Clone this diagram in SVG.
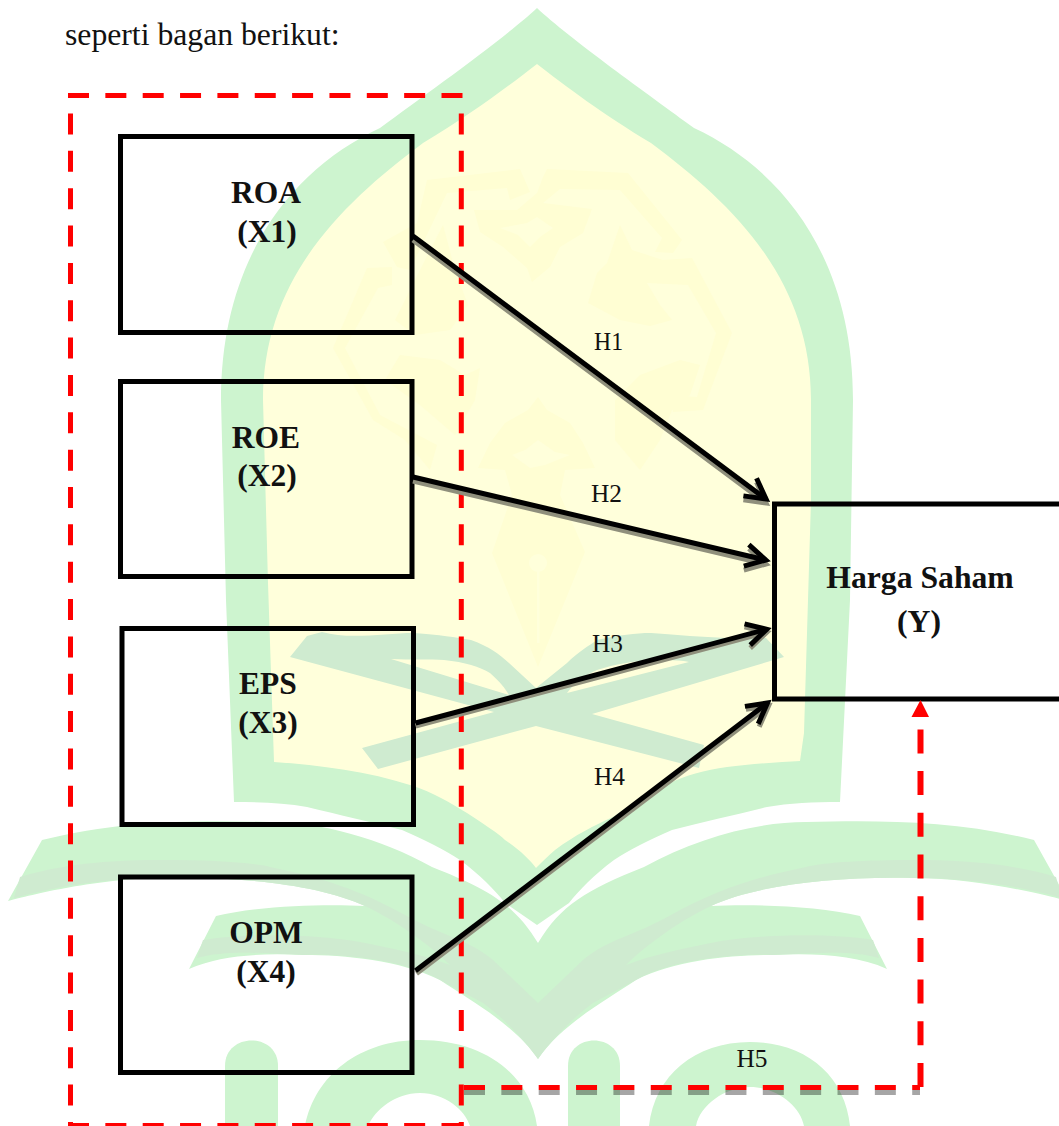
<svg xmlns="http://www.w3.org/2000/svg" xmlns:xlink="http://www.w3.org/1999/xlink" width="1059" height="1126" viewBox="0 0 1059 1126">
<style>
.g{fill:#cdf4cf}
.d{fill:#cfebd0}
.y{fill:#ffffdb}
.o{fill:#fffed3}
.box{fill:none;stroke:#000;stroke-width:5}
.t{font-family:"Liberation Serif","Times New Roman",serif;fill:#111}
.b{font-weight:bold;font-size:31.5px;text-anchor:middle}
.h{font-size:26px}
.line{fill:none;stroke:#000;stroke-width:5;marker-end:url(#arr)}
.sh{fill:none;stroke:#8f8f7c;stroke-width:5;marker-end:url(#arrS)}
.dash{fill:none;stroke:#f00;stroke-width:5;stroke-dasharray:21 16.35}
</style>
<defs>
<marker id="arr" markerUnits="userSpaceOnUse" orient="auto" markerWidth="40" markerHeight="40" refX="0" refY="0" overflow="visible"><path d="M-20,-11 L0,0 L-20,11" fill="none" stroke="#000" stroke-width="5"/></marker>
<marker id="arrS" markerUnits="userSpaceOnUse" orient="auto" markerWidth="40" markerHeight="40" refX="0" refY="0" overflow="visible"><path d="M-20,-11 L0,0 L-20,11" fill="none" stroke="#8f8f7c" stroke-width="5"/></marker>
<g id="wing">
<path class="g" d="M538,943 C515,905 490,890 432,867 C380,838 320,822 270,822 C200,820 120,820 42,840 L8,901 C30,895 100,878 162,878 C240,876 320,885 365,906 C330,904 260,905 216,916 L189,969 C220,955 260,953 304,955 C345,955 400,960 440,980 C470,1000 515,1025 538,1059 Z"/>
<path class="d" d="M20,877 C70,862 120,860 162,860 C210,860 250,862 270,867 C320,877 360,890 405,915 C440,935 470,940 493,960 L538,1003 L538,1059 C525,1040 500,1015 483,1003 L440,980 C410,962 350,953 304,955 C260,953 225,950 197,958 L203,940 C250,932 320,935 360,942 C390,948 425,955 450,965 C430,945 395,920 365,906 C320,885 240,876 162,878 C110,878 60,885 14,898 Z"/>
</g>
</defs>
<rect width="1059" height="1126" fill="#fff"/>
<g id="watermark">
<path class="g" d="M537,8 C505,38 425,95 380,128 C290,170 221,260 221,400 L226,600 L234,802 C260,802 285,803 307,807 C340,815 370,822 402,830 C425,840 445,850 460,860 C480,875 495,890 505,903 L537,925 L569,903 C579,890 594,875 614,860 C629,850 649,840 672,830 C704,822 734,815 767,807 C789,803 814,802 840,802 L850,600 L853,400 C853,260 784,170 694,128 C649,95 569,38 537,8 Z"/>
<path class="y" d="M537,64 C510,85 470,115 423,143 C340,205 263,280 263,400 L268,583 L274,762 C320,765 370,772 410,785 C435,793 450,803 467,813 C485,825 498,833 505,840 C520,850 530,860 536,868 C542,862 548,856 555,850 C575,835 595,825 613,817 C630,805 650,795 666,785 C685,775 705,770 727,767 C750,764 780,762 800,761 L804,733 L811,500 L811,400 C811,280 734,205 651,143 C604,115 564,85 537,64 Z"/>
<path class="o" d="M547,169 L628,173 L682,240 L673,253 L655,252 L662,238 L620,190 L560,189 L543,203 L592,209 L583,233 L560,247 L550,267 L532,282 L527,268 L503,247 L480,232 L474,210 L517,210 L537,193 L543,177 Z"/>
<path class="y" d="M537,217 L553,228 L540,237 L530,247 L518,235 L500,228 L527,223 Z"/>
<path class="o" d="M620,225 L632,250 L663,260 L692,258 L732,333 L703,410 L673,412 L670,395 L697,397 L716,333 L688,285 L647,283 L660,305 L672,320 L650,326 L620,320 L588,303 L597,273 L607,263 Z"/>
<path class="o" d="M427,180 L520,169 L530,192 L510,200 L507,188 L447,193 L410,270 L397,267 L383,242 L417,223 Z"/>
<path class="o" d="M367,268 L392,267 L392,285 L378,288 L345,348 L380,415 L437,445 L430,470 L405,440 L373,420 L333,348 Z"/>
<path class="o" d="M443,225 L455,270 L468,305 L450,330 L415,335 L395,320 L410,290 L425,260 Z"/>
<path class="o" d="M400,355 L440,360 L465,375 L480,368 L475,400 L455,435 L420,405 L385,380 Z"/>
<path class="o" d="M680,360 L700,365 L690,395 L672,410 L660,440 L640,470 L615,440 L615,400 L640,375 Z"/>
<path class="o" d="M538,397 L547,410 L570,423 L583,443 L595,468 L565,470 L560,495 L585,552 L538,667 L492,553 L512,495 L505,470 L478,468 L490,443 L505,423 L528,410 Z"/>
<path class="y" d="M538,440 L555,452 L570,455 L545,465 L530,468 L512,455 L525,450 Z"/>
<circle class="y" cx="538" cy="563" r="9"/>
<rect class="y" x="537" y="565" width="2.5" height="78"/>
<path class="d" d="M290,657 L307,636 L322,632 C350,640 385,633 414,633 C440,635 455,637 471,640 C490,647 498,653 509,663 L536,688 L567,663 C578,652 590,645 597,640 C620,635 635,633 651,633 C680,635 700,637 727,638 L766,638 L784,657 L592,714 L704,745 L699,768 L536,726 L378,769 L362,748 L494,712 Z"/>
<path class="y" d="M391,659 C410,660 430,659 444,660 C465,662 480,667 490,673 C500,682 505,688 509,695 Z"/>
<path class="y" d="M567,693 C575,682 585,675 597,670 C615,664 635,661 651,660 C665,660 680,660 689,662 Z"/>
<use xlink:href="#wing"/>
<use xlink:href="#wing" transform="matrix(-1 0 0 1 1076 0)"/>
<path class="g" d="M225,1126 V1066 C225,1032 278,1032 278,1066 V1126 Z"/>
<path class="g" d="M305,1126 C315,1075 360,1040 420,1040 C485,1040 530,1075 537,1126 H470 C465,1110 445,1093 420,1093 C395,1093 375,1110 368,1126 Z"/>
<path class="g" d="M568,1126 V1066 C568,1032 620,1032 620,1066 V1126 Z"/>
<path class="g" d="M649,1126 C655,1075 695,1042 750,1042 C805,1042 845,1075 850,1126 H804 C800,1105 775,1087 750,1087 C725,1087 700,1105 696,1126 Z"/>
</g>
<text class="t" x="65" y="45" font-size="31.7">seperti bagan berikut:</text>
<g id="boundary-x">
<path class="dash" d="M68,95.5 H463"/>
<path class="dash" d="M70.5,113.5 V1126"/>
<path class="dash" d="M461.3,113.5 V1126"/>
<path class="dash" d="M68,1125.5 H464"/>
</g>
<g id="node-x1"><rect class="box" x="120.5" y="136.5" width="291.5" height="196"/><text class="t b" x="266" y="203">ROA</text><text class="t b" x="267" y="242">(X1)</text></g>
<g id="node-x2"><rect class="box" x="120.5" y="381.5" width="291.5" height="195"/><text class="t b" x="266" y="447.5">ROE</text><text class="t b" x="267" y="486">(X2)</text></g>
<g id="node-x3"><rect class="box" x="122" y="628.5" width="291.5" height="196"/><text class="t b" x="268" y="694">EPS</text><text class="t b" x="268" y="733">(X3)</text></g>
<g id="node-x4"><rect class="box" x="120.5" y="877" width="291.5" height="195.5"/><text class="t b" x="266" y="943">OPM</text><text class="t b" x="266" y="982">(X4)</text></g>
<g id="node-y"><rect class="box" x="774.5" y="504" width="290" height="195"/><text class="t" x="920" y="588" font-size="31.7" font-weight="bold" text-anchor="middle">Harga Saham</text><text class="t" x="919" y="632" font-size="31.7" font-weight="bold" text-anchor="middle">(Y)</text></g>
<g id="connectors">
<path class="sh" d="M413,240 L766,503"/>
<path class="sh" d="M413,481 L765.8,564"/>
<path class="sh" d="M415.6,726 L766.7,632.3"/>
<path class="sh" d="M416.5,973.5 L768.5,706"/>
<path class="line" d="M413,236 L766,499"/>
<path class="line" d="M413,477 L765.8,560"/>
<path class="line" d="M415.6,723 L766.7,629.3"/>
<path class="line" d="M415.5,970.7 L767.5,703"/>
<path d="M464,1092.5 H920" fill="none" stroke="#000" stroke-opacity=".35" stroke-width="5" stroke-dasharray="21 16.35"/>
<path class="dash" d="M464,1087.5 H920"/>
<path d="M920.5,1087 V727" fill="none" stroke="#f00" stroke-width="6" stroke-dasharray="24 17.7"/>
<path d="M920.5,700 L929,717 H911.5 Z" fill="#f00"/>
</g>
<g id="labels">
<text class="t h" x="594" y="350" textLength="29" lengthAdjust="spacingAndGlyphs">H1</text>
<text class="t h" x="591" y="502" textLength="31" lengthAdjust="spacingAndGlyphs">H2</text>
<text class="t h" x="592" y="652" textLength="31" lengthAdjust="spacingAndGlyphs">H3</text>
<text class="t h" x="594" y="785" textLength="31" lengthAdjust="spacingAndGlyphs">H4</text>
<text class="t h" x="736.5" y="1067" textLength="31" lengthAdjust="spacingAndGlyphs">H5</text>
</g>
</svg>
